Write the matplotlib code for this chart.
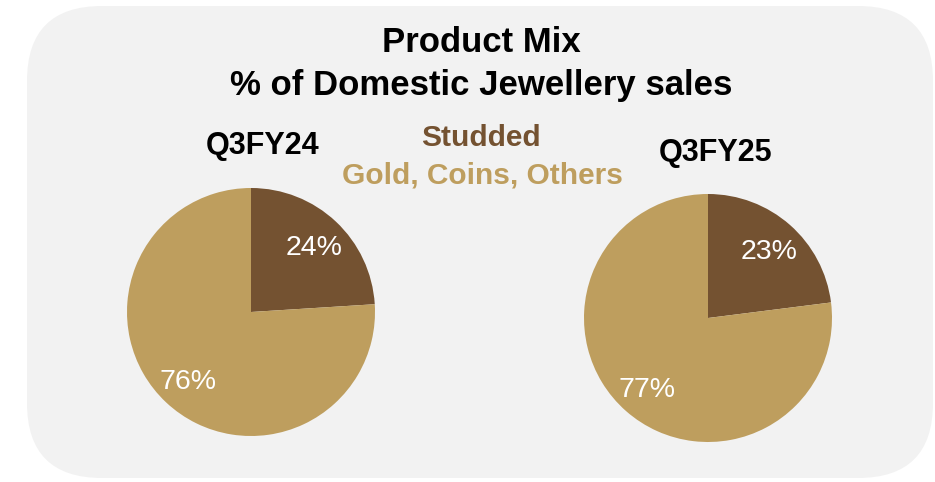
import matplotlib
matplotlib.use('Agg')
import matplotlib.pyplot as plt
from matplotlib.patches import FancyBboxPatch

# data
segments = ['Studded', 'Gold, Coins, Others']
periods = ['Q3FY24', 'Q3FY25']
share_fy24 = [24, 76]
share_fy25 = [23, 77]
colors = ['#745231', '#BE9E5E']

W, H = 935, 482
plt.rcParams['font.family'] = ['Liberation Sans', 'DejaVu Sans']

fig = plt.figure(figsize=(W / 100, H / 100), dpi=100)
fig.patch.set_facecolor('white')

# background panel, drawn in pixel units
bg = fig.add_axes([0, 0, 1, 1])
bg.set_xlim(0, W)
bg.set_ylim(H, 0)
bg.axis('off')
bg.add_patch(FancyBboxPatch((27, 6), 906, 472,
                            boxstyle='round,pad=0,rounding_size=75',
                            fc='#F2F2F2', ec='none'))


def px(x, y):
    return x / W, 1 - y / H


def draw_pie(cx, cy, r, values):
    ax = fig.add_axes([(cx - r) / W, (H - cy - r) / H, 2 * r / W, 2 * r / H])
    wedges, texts, autotexts = ax.pie(values, colors=colors, startangle=90,
                                      counterclock=False, autopct='%d%%',
                                      pctdistance=0.74, radius=1,
                                      wedgeprops=dict(linewidth=0))
    for t in autotexts:
        t.set_color('white')
        t.set_fontsize(20.5)
        t.set_va('center_baseline')
    ax.set_xlim(-1, 1)
    ax.set_ylim(-1, 1)
    ax.set_aspect('equal')
    ax.axis('off')


draw_pie(251, 312, 124, share_fy24)
draw_pie(708, 318, 124, share_fy25)

fig.text(*px(481, 43), 'Product Mix', ha='center', va='center',
         fontsize=25, fontweight='bold', color='black')
fig.text(*px(481, 85), '% of Domestic Jewellery sales', ha='center', va='center',
         fontsize=25, fontweight='bold', color='black')

fig.text(*px(263, 146), periods[0], ha='center', va='center',
         fontsize=22, fontweight='bold', color='black')
fig.text(*px(716, 153), periods[1], ha='center', va='center',
         fontsize=22, fontweight='bold', color='black')

fig.text(*px(481, 138), segments[0], ha='center', va='center',
         fontsize=21.5, fontweight='bold', color=colors[0])
fig.text(*px(482, 176), segments[1], ha='center', va='center',
         fontsize=21.5, fontweight='bold', color=colors[1])

fig.savefig('out.png', dpi=100, facecolor='white')
